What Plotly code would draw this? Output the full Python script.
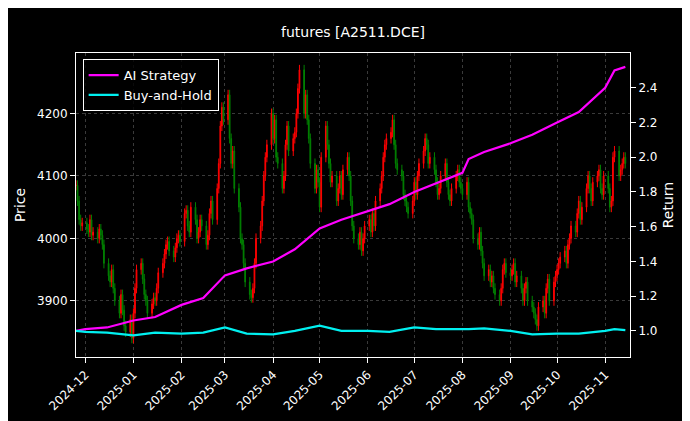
import pandas as pd
import plotly.graph_objects as go
from plotly.subplots import make_subplots

close = [4085,4060,4030,4020,4025,
4015,4010,4030,4005,4010,4000,4015,4005,3990,3960,3940,3930,3950,3920,3900,3880,3910,3885,3860,3850,3870,3840,
3880,3920,3950,3960,3935,3910,3900,3880,3895,3905,3900,3920,3945,3960,3975,3990,3995,3980,3970,3985,4000,4005,3995,
4040,4045,4020,4010,4050,4030,4000,4010,4030,4020,3990,4005,4040,4060,4030,4080,4120,4180,4210,4190,
4230,4160,4120,4140,4080,4050,4000,3990,3960,3930,3910,3905,3920,3960,4000,4020,4060,4100,4130,4150,4200,
4160,4190,4130,4120,4080,4100,4150,4180,4140,4160,4170,4200,4240,4270,4200,4230,4190,4160,4120,4080,4110,4090,
4050,4130,4180,4150,4120,4090,4100,4060,4080,4100,4070,4110,4130,4100,4060,4020,4000,3990,4010,3980,4000,4020,
4030,4010,4040,4020,4060,4080,4100,4130,4150,4160,4170,4190,4150,4120,4110,4100,4070,4060,4050,4040,4060,
4090,4070,4100,4120,4140,4160,4150,4120,4130,4110,4090,4070,4080,4100,4120,4090,4070,4060,4080,4100,4110,4090,4080,
4070,4090,4050,4040,4030,4000,3990,4010,3980,3960,3940,3950,3930,3940,3920,3910,3900,3920,3950,3960,3945,
3940,3950,3960,3930,3940,3920,3900,3920,3930,3900,3890,3880,3870,3860,3890,3900,3880,3920,3935,3900,3930,3940,
3950,3960,3970,3980,3960,3990,4000,4020,4010,4040,4060,4030,4050,4080,4100,4080,4060,4090,4100,4110,4080,4070,4100,
4080,4050,4060,4130,4140,4100,4110,4120,4130,4120]
dates = pd.bdate_range("2024-11-25", periods=len(close))
opn = [close[0]] + close[:-1]
high = [max(o, c) + 8 for o, c in zip(opn, close)]
low = [min(o, c) - 8 for o, c in zip(opn, close)]

ret_dates = ["2024-11-25","2024-12-01","2024-12-15","2025-01-01","2025-01-15","2025-02-01","2025-02-15",
"2025-03-01","2025-03-15","2025-04-01","2025-04-15","2025-05-01","2025-05-15","2025-06-01","2025-06-15",
"2025-07-01","2025-07-15","2025-08-01","2025-08-05","2025-08-15","2025-09-01","2025-09-15","2025-10-01",
"2025-10-15","2025-11-01","2025-11-07","2025-11-14"]
ai_ret = [1.0,1.01,1.02,1.06,1.08,1.15,1.19,1.32,1.36,1.40,1.47,1.59,1.64,1.69,1.73,1.80,1.85,1.91,1.99,2.03,2.08,2.13,2.20,2.26,2.40,2.50,2.52]
bh_ret = [1.0,0.995,0.99,0.975,0.99,0.985,0.99,1.02,0.985,0.98,1.0,1.03,1.0,1.0,0.995,1.02,1.01,1.01,1.01,1.015,1.0,0.98,0.985,0.985,1.0,1.01,1.005]

fig = make_subplots(specs=[[{"secondary_y": True}]])
fig.add_trace(go.Candlestick(x=dates, open=opn, high=high, low=low, close=close,
    increasing=dict(line=dict(color="red", width=1), fillcolor="red"),
    decreasing=dict(line=dict(color="green", width=1), fillcolor="green"),
    whiskerwidth=0, showlegend=False), secondary_y=False)
fig.add_trace(go.Scatter(x=ret_dates, y=ai_ret, mode="lines", name="AI Strategy",
    line=dict(color="#ff00ff", width=2.2)), secondary_y=True)
fig.add_trace(go.Scatter(x=ret_dates, y=bh_ret, mode="lines", name="Buy-and-Hold",
    line=dict(color="#00f0f0", width=2.2)), secondary_y=True)

grid = dict(showgrid=True, gridcolor="#3a3a3a", griddash="dot", gridwidth=0.6)
fig.update_layout(
    width=690, height=421, paper_bgcolor="black", plot_bgcolor="black",
    font=dict(family="DejaVu Sans", color="white", size=12),
    title=dict(text="futures [A2511.DCE]", x=0.5, y=0.955, xanchor="center", font=dict(size=14)),
    margin=dict(l=68, r=68, t=45, b=72, autoexpand=False),
    legend=dict(x=0.012, y=0.98, xanchor="left", yanchor="top", bgcolor="rgba(0,0,0,0.8)",
                bordercolor="white", borderwidth=1, font=dict(size=13)),
    xaxis=dict(rangeslider=dict(visible=False), range=["2024-11-25", "2025-11-17"], automargin=False,
               domain=[0, 1], tickformat="%Y-%m", dtick="M1", tick0="2024-12-01", tickangle=-45,
               showline=True, linecolor="white", mirror=True, ticks="outside", tickcolor="white", **grid),
)
fig.update_yaxes(range=[3810, 4297], tickvals=[3900, 4000, 4100, 4200], title_text="Price", title_standoff=8,
                 automargin=False, showline=True, linecolor="white", mirror=True, ticks="outside", tickcolor="white",
                 zeroline=False, **grid, secondary_y=False)
fig.update_yaxes(range=[0.85, 2.6], tickvals=[1.0,1.2,1.4,1.6,1.8,2.0,2.2,2.4], tickformat=".1f",
                 title_text="Return", title_standoff=6, automargin=False, showline=True, linecolor="white",
                 ticks="outside", tickcolor="white", showgrid=False, zeroline=False, secondary_y=True)
fig.write_html("out.html")
